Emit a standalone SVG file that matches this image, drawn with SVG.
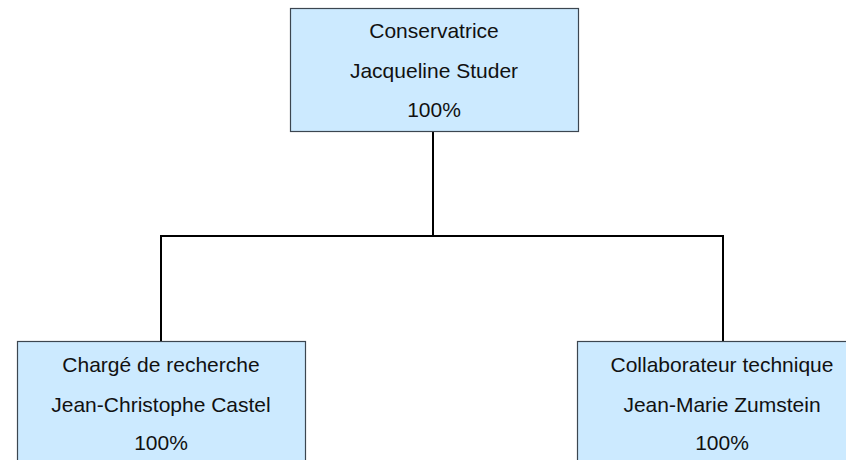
<svg xmlns="http://www.w3.org/2000/svg" width="846" height="460" viewBox="0 0 846 460">
<style>
.box{fill:#cceaff;stroke:#3c4650;stroke-width:1.2}
.t{font-family:"Liberation Sans",Arial,sans-serif;font-size:21px;fill:#111;text-anchor:middle}
.c{fill:none;stroke:#000;stroke-width:2}
</style>
<rect width="846" height="460" fill="#fff"/>
<g id="connectors">
<path class="c" d="M433 132V236M161 236H723M161 235V341M723 235V341"/>
</g>
<g id="n1">
<rect class="box" x="290.5" y="8.5" width="288" height="123"/>
<text class="t" x="434" y="38">Conservatrice</text>
<text class="t" x="434" y="78">Jacqueline Studer</text>
<text class="t" x="434" y="117">100%</text>
</g>
<g id="n2">
<rect class="box" x="17.5" y="341.5" width="288" height="130"/>
<text class="t" x="161" y="372">Chargé de recherche</text>
<text class="t" x="161" y="412">Jean-Christophe Castel</text>
<text class="t" x="161" y="450">100%</text>
</g>
<g id="n3">
<rect class="box" x="577.5" y="341.5" width="288" height="130"/>
<text class="t" x="722" y="372">Collaborateur technique</text>
<text class="t" x="722" y="412">Jean-Marie Zumstein</text>
<text class="t" x="722" y="450">100%</text>
</g>
</svg>
